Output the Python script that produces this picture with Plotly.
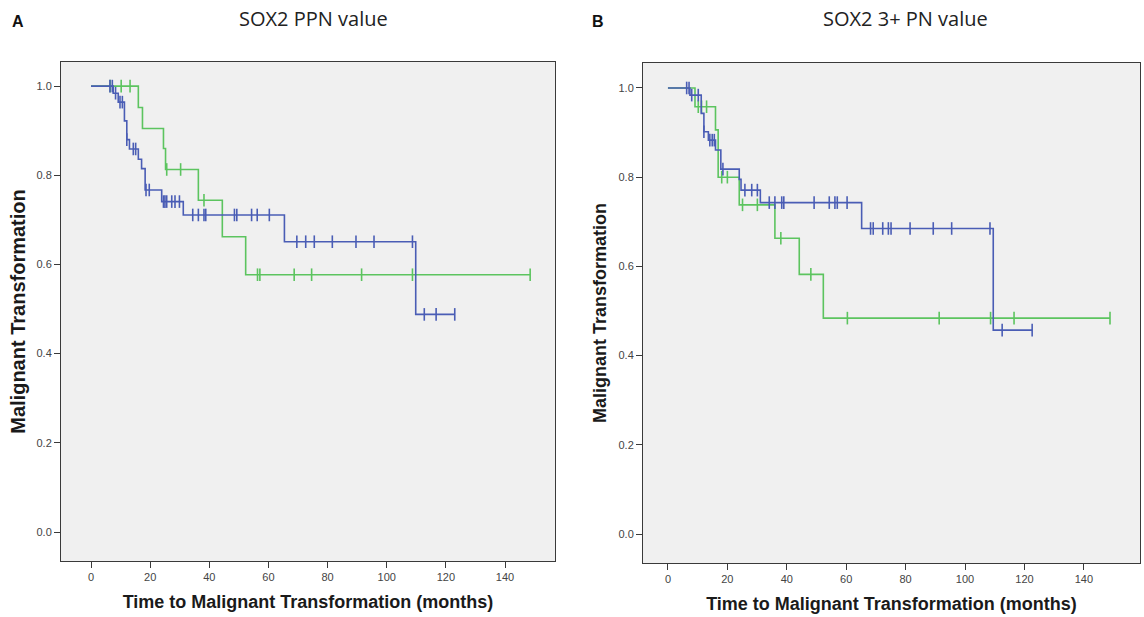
import plotly.graph_objects as go

# ---------------- Panel A: SOX2 PPN value ----------------
a_green_event_t = [16.0, 17.4, 24.5, 25.2, 36.3, 44.4, 52.3]
a_green_event_s = [0.952, 0.905, 0.860, 0.813, 0.744, 0.662, 0.577]
a_green_censor = [6.5, 10.2, 13.2, 25.6, 30.3, 38.2, 56.3, 57.1, 68.7, 74.6, 91.5, 108.7, 148.5]
a_green_end = 148.5

a_blue_event_t = [7.5, 9.2, 11.3, 12.1, 13.0, 16.0, 17.1, 18.3, 23.9, 31.2, 65.4, 109.8]
a_blue_event_s = [0.984, 0.964, 0.922, 0.880, 0.859, 0.836, 0.815, 0.767, 0.741, 0.711, 0.651, 0.488]
a_blue_censor = [6.4, 7.2, 8.3, 9.8, 10.6, 12.1, 14.3, 15.1, 18.6, 19.7, 24.5, 25.0, 25.6,
                 27.3, 28.4, 29.9, 34.4, 36.3, 38.2, 38.8, 48.5, 49.3, 54.3, 56.2, 60.3,
                 69.6, 72.6, 75.5, 81.6, 89.6, 95.7, 108.7, 112.7, 116.7, 123.0]
a_blue_end = 123.0

# ---------------- Panel B: SOX2 3+ PN value ----------------
b_green_event_t = [9.1, 16.0, 16.9, 24.0, 36.0, 44.2, 52.3]
b_green_event_s = [0.958, 0.906, 0.800, 0.738, 0.663, 0.582, 0.484]
b_green_censor = [10.2, 11.3, 13.0, 18.1, 20.0, 25.1, 30.1, 38.0, 48.1, 60.4, 91.3, 108.6, 116.5, 148.8]
b_green_end = 148.8

b_blue_event_t = [7.4, 11.2, 12.1, 13.6, 16.0, 17.8, 24.0, 24.6, 31.1, 65.2, 109.5]
b_blue_event_s = [0.984, 0.943, 0.902, 0.883, 0.861, 0.818, 0.795, 0.771, 0.743, 0.685, 0.457]
b_blue_censor = [6.3, 7.1, 8.0, 10.2, 12.1, 14.1, 14.9, 15.6, 18.5, 25.9, 28.2, 30.1,
                 34.1, 36.0, 38.3, 39.0, 49.2, 54.3, 56.2, 57.0, 60.3, 68.2, 69.1, 72.3,
                 74.2, 75.1, 81.5, 89.3, 95.5, 108.4, 112.5, 122.6]
b_blue_end = 122.6

titles = ["SOX2 PPN value", "SOX2 3+ PN value"]
x_ticks = [0, 20, 40, 60, 80, 100, 120, 140]
y_ticks = [0.0, 0.2, 0.4, 0.6, 0.8, 1.0]
y_ticktext = ["0.0", "0.2", "0.4", "0.6", "0.8", "1.0"]

GREEN = "#5cc45f"
BLUE = "#4a5db5"


def surv_at(t, ev_t, ev_s):
    s = 1.0
    for et, es in zip(ev_t, ev_s):
        if t >= et:
            s = es
    return s


def add_km(fig, ev_t, ev_s, censor, end, color, xa, ya):
    xs = [0.0] + list(ev_t) + [end]
    ys = [1.0] + list(ev_s) + [ev_s[-1]]
    fig.add_trace(go.Scatter(x=xs, y=ys, mode="lines", line=dict(color=color, width=1.6, shape="hv"),
                             xaxis=xa, yaxis=ya, showlegend=False, hoverinfo="skip"))
    cy = [surv_at(c, ev_t, ev_s) for c in censor]
    fig.add_trace(go.Scatter(x=censor, y=cy, mode="markers",
                             marker=dict(symbol="line-ns-open", size=9, color=color,
                                         line=dict(color=color, width=1.6)),
                             xaxis=xa, yaxis=ya, showlegend=False, hoverinfo="skip"))


fig = go.Figure()
add_km(fig, a_green_event_t, a_green_event_s, a_green_censor, a_green_end, GREEN, "x", "y")
add_km(fig, a_blue_event_t, a_blue_event_s, a_blue_censor, a_blue_end, BLUE, "x", "y")
add_km(fig, b_green_event_t, b_green_event_s, b_green_censor, b_green_end, GREEN, "x2", "y2")
add_km(fig, b_blue_event_t, b_blue_event_s, b_blue_censor, b_blue_end, BLUE, "x2", "y2")

W, H = 1144, 617

axis_common = dict(showline=True, linecolor="#3a3a3a", linewidth=1, mirror=True,
                   ticks="outside", ticklen=6, tickcolor="#3a3a3a", tickwidth=1.2,
                   showgrid=False, zeroline=False,
                   tickfont=dict(family="Liberation Sans, Arial", size=11, color="#444"))

TFONT = "Liberation Sans, Arial"
xtitle = dict(text="<b>Time to Malignant Transformation (months)</b>",
              font=dict(family=TFONT, size=18, color="#1a1a1a"), standoff=13)
ytitle_a = dict(text="<b>Malignant Transformation</b>",
                font=dict(family=TFONT, size=20, color="#1a1a1a"), standoff=5)
ytitle_b = dict(text="<b>Malignant Transformation</b>",
                font=dict(family=TFONT, size=18, color="#1a1a1a"), standoff=7)

fig.update_layout(
    width=W, height=H,
    margin=dict(l=0, r=0, t=0, b=0),
    paper_bgcolor="white",
    plot_bgcolor="#f0f0f0",
    xaxis=dict(domain=[61 / W, 555 / W], range=[-10.15, 156.9], tickvals=x_ticks, title=xtitle, **axis_common),
    yaxis=dict(domain=[1 - 561 / H, 1 - 62 / H], range=[-0.065, 1.054], tickvals=y_ticks, ticktext=y_ticktext,
               title=ytitle_a, **axis_common),
    xaxis2=dict(domain=[643 / W, 1140 / W], range=[-8.4, 158.9], tickvals=x_ticks, title=xtitle,
                anchor="y2", **axis_common),
    yaxis2=dict(domain=[1 - 563 / H, 1 - 63 / H], range=[-0.065, 1.056], tickvals=y_ticks, ticktext=y_ticktext,
                title=ytitle_b, anchor="x2", **axis_common),
    annotations=[
        dict(text=titles[0], x=313 / W, y=1 - 18 / H, xref="paper", yref="paper", showarrow=False,
             xanchor="center", yanchor="middle", font=dict(family="Open Sans", size=20, color="#222")),
        dict(text=titles[1], x=905 / W, y=1 - 18 / H, xref="paper", yref="paper", showarrow=False,
             xanchor="center", yanchor="middle", font=dict(family="Open Sans", size=20, color="#222")),
        dict(text="<b>A</b>", x=18 / W, y=1 - 22 / H, xref="paper", yref="paper", showarrow=False,
             xanchor="center", yanchor="middle", font=dict(family=TFONT, size=16, color="#111")),
        dict(text="<b>B</b>", x=598 / W, y=1 - 22 / H, xref="paper", yref="paper", showarrow=False,
             xanchor="center", yanchor="middle", font=dict(family=TFONT, size=16, color="#111")),
    ],
)

fig.write_html("out.html")
